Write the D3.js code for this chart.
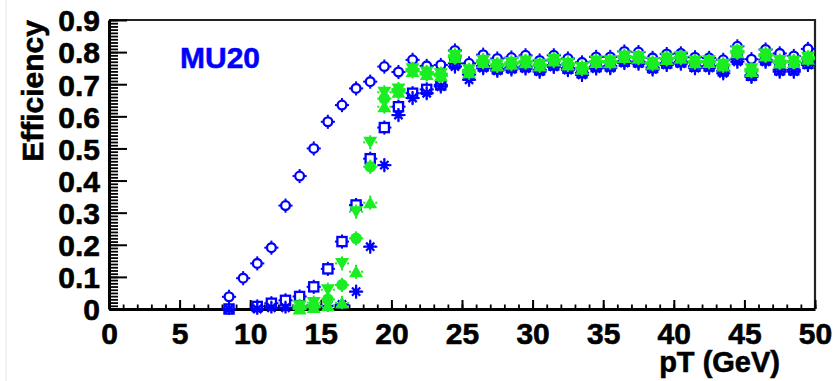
<!DOCTYPE html>
<html><head><meta charset="utf-8">
<script src="https://cdn.jsdelivr.net/npm/d3@7"></script>
<style>
html,body{margin:0;padding:0;background:#fff;}
svg{display:block;}
text{font-family:"Liberation Sans",Arial,Helvetica,sans-serif;font-weight:bold;}
</style></head>
<body>
<svg id="chart" width="839" height="381"></svg>
<script>
// pT bin centres (GeV)
const ptBins = [8.5,9.5,10.5,11.5,12.5,13.5,14.5,15.5,16.5,17.5,18.5,19.5,20.5,21.5,22.5,23.5,24.5,25.5,26.5,27.5,28.5,29.5,30.5,31.5,32.5,33.5,34.5,35.5,36.5,37.5,38.5,39.5,40.5,41.5,42.5,43.5,44.5,45.5,46.5,47.5,48.5,49.5];

const blueOpenCircle = [0.038,0.096,0.142,0.191,0.322,0.414,0.500,0.583,0.635,0.687,0.708,0.755,0.738,0.776,0.757,0.760,0.805,0.765,0.792,0.780,0.783,0.790,0.774,0.790,0.780,0.768,0.785,0.785,0.802,0.800,0.782,0.794,0.796,0.784,0.782,0.776,0.818,0.778,0.808,0.796,0.788,0.810];
const blueOpenSquare = [0.0,null,0.008,0.018,0.027,0.039,0.069,0.125,0.210,0.324,0.468,0.565,0.630,0.672,0.684,0.698,0.765,0.730,0.757,0.748,0.752,0.755,0.745,0.760,0.750,0.736,0.755,0.757,0.772,0.770,0.752,0.766,0.770,0.756,0.757,0.742,0.778,0.728,0.776,0.745,0.745,0.765];
const blueAsterisk = [0.0,null,0.0,0.004,0.004,0.005,0.006,0.010,0.014,0.054,0.194,0.448,0.604,0.657,0.672,0.693,0.755,0.714,0.750,0.742,0.746,0.749,0.739,0.754,0.744,0.729,0.749,0.750,0.766,0.764,0.746,0.760,0.764,0.750,0.751,0.734,0.770,0.723,0.770,0.739,0.739,0.760];
const greenCircle = [null,null,null,null,null,0.005,0.010,0.030,0.075,0.220,0.443,0.655,0.680,0.744,0.734,0.729,0.786,0.739,0.770,0.760,0.765,0.770,0.760,0.775,0.762,0.750,0.770,0.770,0.786,0.783,0.765,0.780,0.784,0.770,0.770,0.760,0.801,0.744,0.791,0.770,0.770,0.780];
const greenTriUp = [null,null,null,null,null,0.000,0.005,0.010,0.019,0.116,0.331,0.630,0.675,0.740,0.730,0.726,0.783,0.736,0.768,0.757,0.762,0.767,0.757,0.772,0.760,0.747,0.768,0.767,0.783,0.781,0.762,0.777,0.781,0.767,0.768,0.757,0.798,0.740,0.788,0.766,0.768,0.778];
const greenTriDown = [null,null,null,null,null,0.010,0.020,0.060,0.142,0.303,0.519,0.675,0.685,0.748,0.738,0.733,0.790,0.745,0.775,0.762,0.768,0.772,0.762,0.778,0.765,0.752,0.772,0.773,0.788,0.786,0.768,0.782,0.786,0.772,0.773,0.762,0.804,0.748,0.794,0.774,0.772,0.784];

const binHalfWidth = 0.5;   // GeV
const effError = 0.022;     // vertical error bar half-size

const xTicks = [0,5,10,15,20,25,30,35,40,45,50];
const yTicks = [0,0.1,0.2,0.3,0.4,0.5,0.6,0.7,0.8,0.9];
const yTickLabels = ["0","0.1","0.2","0.3","0.4","0.5","0.6","0.7","0.8","0.9"];
const xTickLabels = ["0","5","10","15","20","25","30","35","40","45","50"];

const BLUE = "#0000ff", GREEN = "#1aee22";

const svg = d3.select("#chart");
const W = 839, H = 381;
const L = 109, R = 815, T = 20, B = 309;

// faint slide background strip at left edge
svg.append("line").attr("x1",6).attr("x2",6).attr("y1",0).attr("y2",H)
  .attr("stroke","#e4e4f2").attr("stroke-width",1);

const x = d3.scaleLinear().domain([0,50]).range([L,R]);
const y = d3.scaleLinear().domain([0,0.9]).range([B,T]);

// frame (top and right)
svg.append("path")
  .attr("d",`M${L},${T}H${R}V${B}`)
  .attr("fill","none").attr("stroke","#222").attr("stroke-width",2.2);

const FONT = "'Liberation Sans',Arial,sans-serif";

// y minor ticks
const yMinor = d3.range(0,91).map(d=>d/100);
svg.append("g").attr("transform",`translate(${L},0)`)
  .call(d3.axisLeft(y).tickValues(yMinor).tickSize(-9).tickSizeOuter(0).tickFormat(""))
  .call(g=>g.select(".domain").remove())
  .call(g=>g.selectAll("line").attr("stroke","#000").attr("stroke-width",1.8));
// y major ticks
svg.append("g").attr("transform",`translate(${L},0)`)
  .call(d3.axisLeft(y).tickValues(yTicks).tickSize(-18).tickSizeOuter(0).tickPadding(9)
        .tickFormat((d,i)=>yTickLabels[i]))
  .call(g=>g.select(".domain").attr("stroke","#000").attr("stroke-width",3))
  .call(g=>g.selectAll("line").attr("stroke","#000").attr("stroke-width",2))
  .call(g=>g.selectAll("text").attr("font-size",30).attr("font-family",FONT)
        .attr("font-weight","bold").attr("fill","#000").attr("stroke","#000").attr("stroke-width",0.6)
        .attr("dy","0.36em"));

// x minor ticks
const xMinor = d3.range(0,51);
svg.append("g").attr("transform",`translate(0,${B})`)
  .call(d3.axisBottom(x).tickValues(xMinor).tickSize(-4.5).tickSizeOuter(0).tickFormat(""))
  .call(g=>g.select(".domain").remove())
  .call(g=>g.selectAll("line").attr("stroke","#000").attr("stroke-width",1.8));
// x major ticks
svg.append("g").attr("transform",`translate(0,${B})`)
  .call(d3.axisBottom(x).tickValues(xTicks).tickSize(-9).tickSizeOuter(0).tickPadding(14)
        .tickFormat((d,i)=>xTickLabels[i]))
  .call(g=>g.select(".domain").attr("stroke","#000").attr("stroke-width",3))
  .call(g=>g.selectAll("line").attr("stroke","#000").attr("stroke-width",2))
  .call(g=>g.selectAll("text").attr("font-size",30).attr("font-family",FONT)
        .attr("font-weight","bold").attr("fill","#000").attr("stroke","#000").attr("stroke-width",0.6));

// axis titles
svg.append("text").attr("x",780).attr("y",372).attr("text-anchor","end")
  .attr("font-size",29).attr("fill","#000").attr("stroke","#000").attr("stroke-width",0.6).text("pT (GeV)");
svg.append("text").attr("transform","translate(43,20) rotate(-90)").attr("text-anchor","end")
  .attr("font-size",30).attr("fill","#000").attr("stroke","#000").attr("stroke-width",0.6).text("Efficiency");
svg.append("text").attr("x",180).attr("y",68).attr("font-size",30).attr("fill",BLUE)
  .attr("stroke",BLUE).attr("stroke-width",0.5).text("MU20");

// marker drawing
const R_M = 5;
function drawSeries(values, color, shape){
  const pts = ptBins.map((p,i)=>({p, v: values[i]})).filter(d=>d.v!==null);
  const g = svg.append("g");
  // error bars (not drawn through marker)
  pts.forEach(d=>{
    const cx = x(d.p), cy = y(d.v);
    const xl = x(d.p-binHalfWidth), xr = x(d.p+binHalfWidth);
    const yt = y(Math.min(d.v+effError,1)), yb = y(Math.max(d.v-effError,0));
    const segs = [[xl,cy,cx-R_M,cy],[cx+R_M,cy,xr,cy]];
    if (cy-yt > R_M) segs.push([cx,yt,cx,cy-R_M]);
    if (yb-cy > R_M) segs.push([cx,cy+R_M,cx,yb]);
    segs.forEach(s=>g.append("line").attr("x1",s[0]).attr("y1",s[1]).attr("x2",s[2]).attr("y2",s[3])
      .attr("stroke",color).attr("stroke-width",2));
  });
  pts.forEach(d=>{
    const cx = x(d.p), cy = y(d.v);
    if (shape==="openCircle"){
      g.append("circle").attr("cx",cx).attr("cy",cy).attr("r",4.4)
        .attr("fill","none").attr("stroke",color).attr("stroke-width",2.3);
    } else if (shape==="openSquare"){
      g.append("rect").attr("x",cx-4.6).attr("y",cy-4.6).attr("width",9.2).attr("height",9.2)
        .attr("fill","none").attr("stroke",color).attr("stroke-width",2.3);
    } else if (shape==="asterisk"){
      const r=5.8, q=r*0.707;
      g.append("path").attr("d",`M${cx-r},${cy}H${cx+r}M${cx},${cy-r}V${cy+r}M${cx-q},${cy-q}L${cx+q},${cy+q}M${cx-q},${cy+q}L${cx+q},${cy-q}`)
        .attr("stroke",color).attr("stroke-width",2.3).attr("fill","none");
    } else if (shape==="fullCircle"){
      g.append("circle").attr("cx",cx).attr("cy",cy).attr("r",5.8).attr("fill",color);
    } else if (shape==="triUp"){
      g.append("path").attr("d",`M${cx},${cy-6.5}L${cx+7},${cy+5.5}L${cx-7},${cy+5.5}Z`).attr("fill",color);
    } else if (shape==="triDown"){
      g.append("path").attr("d",`M${cx},${cy+6.5}L${cx+7},${cy-5.5}L${cx-7},${cy-5.5}Z`).attr("fill",color);
    }
  });
}

drawSeries(blueOpenCircle, BLUE, "openCircle");
drawSeries(blueOpenSquare, BLUE, "openSquare");
drawSeries(blueAsterisk, BLUE, "asterisk");
drawSeries(greenTriUp, GREEN, "triUp");
drawSeries(greenTriDown, GREEN, "triDown");
drawSeries(greenCircle, GREEN, "fullCircle");
</script>
</body></html>
